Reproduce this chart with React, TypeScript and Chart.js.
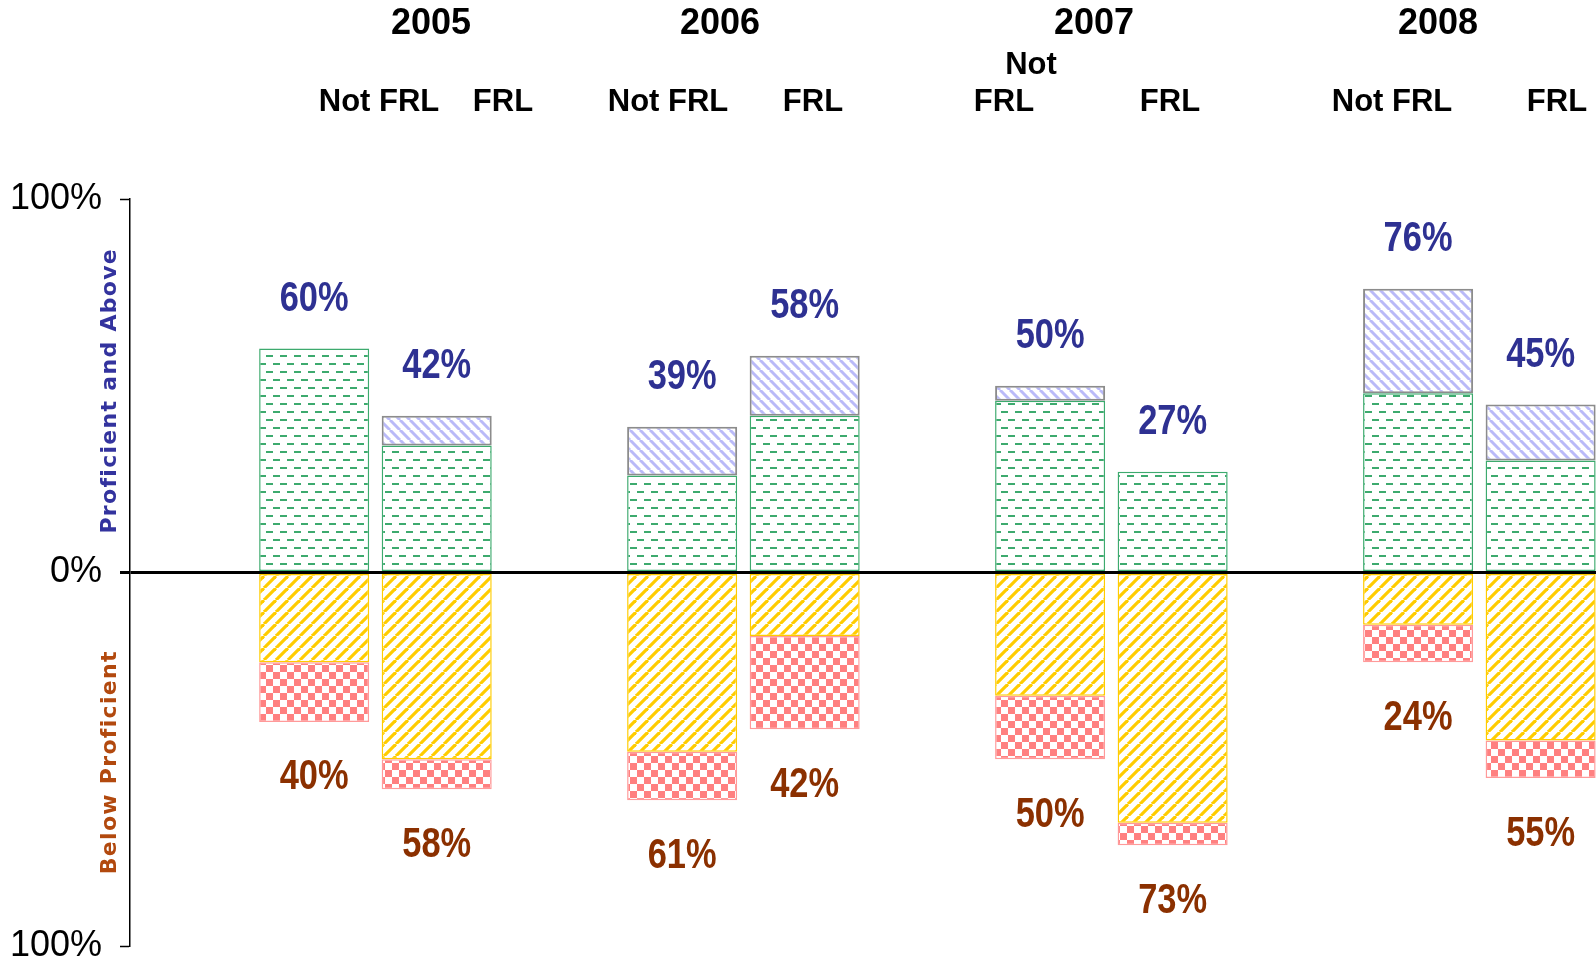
import React, { useEffect, useRef } from "react";
import { Chart, registerables } from "chart.js";

Chart.register(...registerables);

// ---------------- data ----------------
const years = ["2005", "2006", "2007", "2008"];
const groups = ["Not FRL", "FRL"];
const yearIndex = [0, 1, 2, 3];

// Not FRL students (% of students)
const notFrlProficient = [60, 26, 46, 48];
const notFrlAdvanced = [0, 13, 4, 28];
const notFrlBasic = [24, 48, 33, 14];
const notFrlBelowBasic = [16, 13, 17, 10];

// FRL students (% of students)
const frlProficient = [34, 42, 27, 30];
const frlAdvanced = [8, 16, 0, 15];
const frlBasic = [50, 17, 67, 45];
const frlBelowBasic = [8, 25, 6, 10];

// printed totals
const notFrlAboveLabels = ["60%", "39%", "50%", "76%"];
const frlAboveLabels = ["42%", "58%", "27%", "45%"];
const notFrlBelowLabels = ["40%", "61%", "50%", "24%"];
const frlBelowLabels = ["58%", "42%", "73%", "55%"];

const yTickValues = [-100, 0, 100];
const axisTitleAbove = "Proficient and Above";
const axisTitleBelow = "Below Proficient";

// ---------------- layout / style ----------------
const W = 1596;
const H = 971;
const headerYears = [
  { text: years[0], x: 431, y: 24 },
  { text: years[1], x: 720, y: 24 },
  { text: years[2], x: 1094, y: 24 },
  { text: years[3], x: 1438, y: 24 },
];
const headerGroups = [
  { text: groups[0], x: 379, y: 102 },
  { text: groups[1], x: 503, y: 102 },
  { text: groups[0], x: 668, y: 102 },
  { text: groups[1], x: 813, y: 102 },
  { text: "Not", x: 1031, y: 65 },
  { text: "FRL", x: 1004, y: 102 },
  { text: groups[1], x: 1170, y: 102 },
  { text: groups[0], x: 1392, y: 102 },
  { text: groups[1], x: 1557, y: 102 },
];

const GREEN = "#3DAA6E";
const BLUE_HATCH = "rgb(186,186,248)";
const GOLD = "#FFCC00";
const PINK = "#FF8080";
const LABEL_BLUE = "#2E3192";
const LABEL_BROWN = "#8B3000";
const TITLE_BLUE = "#33339E";
const TITLE_BROWN = "#B2490E";
const SANS = "'Liberation Sans', Arial, Helvetica, sans-serif";

function tile(w: number, h: number, draw: (g: CanvasRenderingContext2D) => void) {
  const c = document.createElement("canvas");
  c.width = w;
  c.height = h;
  const g = c.getContext("2d")!;
  g.fillStyle = "#ffffff";
  g.fillRect(0, 0, w, h);
  draw(g);
  return c;
}

function makePatterns(ctx: CanvasRenderingContext2D) {
  const dash = tile(14, 16, (g) => {
    g.fillStyle = GREEN;
    g.fillRect(0, 3, 7, 2);
    g.fillRect(7, 11, 7, 2);
  });
  const hatchBack = tile(10, 10, (g) => {
    g.strokeStyle = BLUE_HATCH;
    g.lineWidth = 3;
    for (let k = -1; k <= 1; k++) {
      g.beginPath();
      g.moveTo(k * 10, 0);
      g.lineTo(k * 10 + 10, 10);
      g.stroke();
    }
  });
  const hatchFwd = tile(12, 12, (g) => {
    g.strokeStyle = GOLD;
    g.lineWidth = 3.2;
    for (let k = -1; k <= 1; k++) {
      g.beginPath();
      g.moveTo(k * 12, 12);
      g.lineTo(k * 12 + 12, 0);
      g.stroke();
    }
  });
  const checker = tile(14, 14, (g) => {
    g.fillStyle = PINK;
    g.fillRect(0, 0, 14, 14);
    g.fillStyle = "#ffffff";
    g.fillRect(0, 0, 7, 7);
    g.fillRect(7, 7, 7, 7);
  });
  return {
    proficient: ctx.createPattern(dash, "repeat")!,
    advanced: ctx.createPattern(hatchBack, "repeat")!,
    basic: ctx.createPattern(hatchFwd, "repeat")!,
    below: ctx.createPattern(checker, "repeat")!,
  };
}

const pts = (vals: number[], sign: number) => yearIndex.map((x, i) => ({ x, y: sign * vals[i] }));

function narrowText(c: CanvasRenderingContext2D, text: string, x: number, y: number, sx: number) {
  c.save();
  c.translate(x, y);
  c.scale(sx, 1);
  c.fillText(text, 0, 0);
  c.restore();
}

export default function App() {
  const ref = useRef<HTMLCanvasElement>(null);

  useEffect(() => {
    const canvas = ref.current!;
    const ctx = canvas.getContext("2d")!;
    const p = makePatterns(ctx);

    const seg = (label: string, stack: string, vals: number[], sign: number, bg: any, border: string, bw: number) => ({
      label,
      stack,
      data: pts(vals, sign),
      backgroundColor: bg,
      borderColor: border,
      borderWidth: bw,
      borderSkipped: false as const,
      categoryPercentage: 0.666,
      barPercentage: 0.898,
    });

    const datasets = [
      seg("Not FRL Proficient", "notfrl", notFrlProficient, 1, p.proficient, GREEN, 1.5),
      seg("Not FRL Advanced", "notfrl", notFrlAdvanced, 1, p.advanced, "#8C8C8C", 2),
      seg("Not FRL Basic", "notfrl", notFrlBasic, -1, p.basic, GOLD, 1.5),
      seg("Not FRL Below Basic", "notfrl", notFrlBelowBasic, -1, p.below, "#FF9A9A", 1.5),
      seg("FRL Proficient", "frl", frlProficient, 1, p.proficient, GREEN, 1.5),
      seg("FRL Advanced", "frl", frlAdvanced, 1, p.advanced, "#8C8C8C", 2),
      seg("FRL Basic", "frl", frlBasic, -1, p.basic, GOLD, 1.5),
      seg("FRL Below Basic", "frl", frlBelowBasic, -1, p.below, "#FF9A9A", 1.5),
    ];

    const labelPlugin = {
      id: "totals",
      afterDatasetsDraw(chart: any) {
        const c = chart.ctx;
        c.save();
        c.textAlign = "center";
        c.textBaseline = "middle";
        c.font = `bold 42px ${SANS}`;
        const tops = [
          { ds: 1, labels: notFrlAboveLabels },
          { ds: 5, labels: frlAboveLabels },
        ];
        const bottoms = [
          { ds: 3, labels: notFrlBelowLabels },
          { ds: 7, labels: frlBelowLabels },
        ];
        c.fillStyle = LABEL_BLUE;
        tops.forEach(({ ds, labels }) => {
          chart.getDatasetMeta(ds).data.forEach((el: any, i: number) => {
            narrowText(c, labels[i], el.x, el.y - 49, 0.82);
          });
        });
        c.fillStyle = LABEL_BROWN;
        bottoms.forEach(({ ds, labels }) => {
          chart.getDatasetMeta(ds).data.forEach((el: any, i: number) => {
            narrowText(c, labels[i], el.x, el.y + 56, 0.82);
          });
        });
        c.restore();
      },
      afterDraw(chart: any) {
        const c = chart.ctx;
        const ys = chart.scales.y;
        c.save();
        c.textAlign = "center";
        c.textBaseline = "middle";
        c.fillStyle = "#000";
        c.font = `bold 36px ${SANS}`;
        headerYears.forEach((h) => c.fillText(h.text, h.x, h.y));
        c.font = `bold 31px ${SANS}`;
        headerGroups.forEach((h) => c.fillText(h.text, h.x, h.y));

        c.font = `bold 22px 'DejaVu Sans', Verdana, sans-serif`;
        try {
          (c as any).letterSpacing = "1.3px";
        } catch (e) {}
        const x = 110;
        c.save();
        c.translate(x, ys.getPixelForValue(50) + 5);
        c.rotate(-Math.PI / 2);
        c.fillStyle = TITLE_BLUE;
        c.fillText(axisTitleAbove, 0, 0);
        c.restore();
        c.save();
        c.translate(x, ys.getPixelForValue(-50) + 3);
        c.rotate(-Math.PI / 2);
        c.fillStyle = TITLE_BROWN;
        c.fillText(axisTitleBelow, 0, 0);
        c.restore();
        c.restore();
      },
    };

    const chart = new Chart(canvas, {
      type: "bar",
      data: { datasets: datasets as any },
      options: {
        animation: false,
        responsive: false,
        maintainAspectRatio: false,
        layout: { padding: { top: 199, bottom: 25, left: 0, right: 0 } },
        plugins: {
          legend: { display: false },
          tooltip: { enabled: false },
          title: { display: false },
        },
        scales: {
          x: {
            type: "linear",
            display: false,
            offset: false,
            min: -0.667,
            max: 3.317,
            afterBuildTicks: (s: any) => {
              s.ticks = yearIndex.map((v) => ({ value: v }));
            },
          },
          y: {
            type: "linear",
            stacked: true,
            min: -100,
            max: 100,
            z: 1,
            afterBuildTicks: (s: any) => {
              s.ticks = yTickValues.map((v) => ({ value: v }));
            },
            afterFit: (s: any) => {
              s.width = 130;
              s.paddingTop = 0;
              s.paddingBottom = 0;
            },
            ticks: {
              callback: (v: any) => Math.abs(Number(v)) + "%",
              color: "#000",
              font: { family: SANS, size: 36 },
              padding: 18,
            },
            grid: {
              drawOnChartArea: true,
              drawTicks: true,
              tickLength: 10,
              color: (c: any) => (c.tick && c.tick.value === 0 ? "#000" : "rgba(0,0,0,0)"),
              lineWidth: (c: any) => (c.tick && c.tick.value === 0 ? 3 : 1),
              tickColor: "#000",
              tickWidth: (c: any) => (c.tick && c.tick.value === 0 ? 3 : 1.5),
            },
            border: { display: true, color: "#000", width: 1.5 },
          },
        },
      } as any,
      plugins: [labelPlugin],
    });

    return () => chart.destroy();
  }, []);

  return (
    <div style={{ position: "fixed", left: 0, top: 0, width: W, height: H, background: "#fff" }}>
      <canvas ref={ref} width={W} height={H} style={{ display: "block" }} />
    </div>
  );
}
